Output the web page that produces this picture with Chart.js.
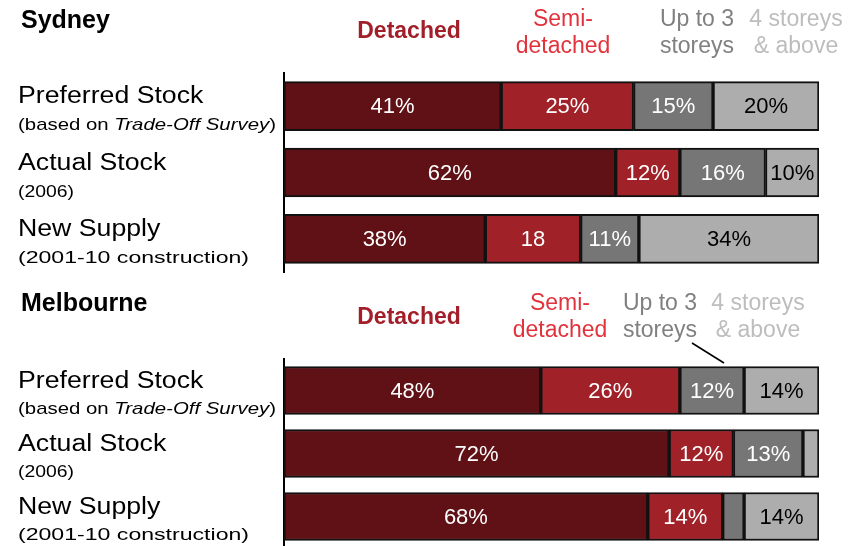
<!DOCTYPE html>
<html>
<head>
<meta charset="utf-8">
<script src="https://cdn.jsdelivr.net/npm/chart.js@4.4.1/dist/chart.umd.min.js"></script>
<style>
  html, body { margin: 0; padding: 0; background: #fff; overflow: hidden; }
  .panel { position: absolute; left: 0; width: 858px; }
  #sydPanel { top: 0; height: 280px; }
  #melPanel { top: 280px; height: 270px; }
</style>
</head>
<body>
<div class="panel" id="sydPanel"><canvas id="sydneyChart" width="858" height="280"></canvas></div>
<div class="panel" id="melPanel"><canvas id="melbourneChart" width="858" height="270"></canvas></div>
<script>
const FONT = "'Liberation Sans', Arial, sans-serif";

const rows = ['Preferred Stock', 'Actual Stock', 'New Supply'];
const seriesNames = ['Detached', 'Semi-detached', 'Up to 3 storeys', '4 storeys & above'];
const headerLines = [['Detached'], ['Semi-', 'detached'], ['Up to 3', 'storeys'], ['4 storeys', '& above']];
const barColours = ['#5f1116', '#a02128', '#767676', '#adadad'];
const headerColours = ['#a21f2a', '#e2333d', '#808080', '#bdbdbd'];

// Sydney (shares in %, as printed)
const sydneyDetached = [41, 62, 38];
const sydneySemi = [25, 12, 18];
const sydneyLow = [15, 16, 11];
const sydneyHigh = [20, 10, 34];
const sydneyLabels = [['41%', '62%', '38%'], ['25%', '12%', '18'], ['15%', '16%', '11%'], ['20%', '10%', '34%']];

// Melbourne
const melbDetached = [48, 72, 68];
const melbSemi = [26, 12, 14];
const melbLow = [12, 13, 4];
const melbHigh = [14, 3, 14];
const melbLabels = [['48%', '72%', '68%'], ['26%', '12%', '14%'], ['12%', '13%', ''], ['14%', '', '14%']];

// each bar runs the full width, so scale each row to its own total
function shares(series) {
  const totals = rows.map((_, i) => series.reduce((s, arr) => s + arr[i], 0));
  return series.map((arr) => arr.map((v, i) => (v / totals[i]) * 100));
}

function stretchText(ctx, text, x, y, sx) {
  ctx.save();
  ctx.translate(x, y);
  ctx.scale(sx, 1);
  ctx.fillText(text, 0, 0);
  ctx.restore();
  return ctx.measureText(text).width * sx;
}

// note lines under the row names: [normal, italic, normal] pieces + width on the slide
const notes = [
  { parts: ['(based on ', 'Trade-Off Survey', ')'], width: 258 },
  { parts: ['(2006)', '', ''], width: 56 },
  { parts: ['(2001-10 construction)', '', ''], width: 231 }
];

const panelText = {
  id: 'panelText',
  afterDatasetsDraw(chart, args, opts) {
    const ctx = chart.ctx;
    const yScale = chart.scales.y;
    ctx.save();

    // values inside the bars
    ctx.font = `22px ${FONT}`;
    ctx.textAlign = 'center';
    ctx.textBaseline = 'middle';
    chart.data.datasets.forEach((ds, di) => {
      chart.getDatasetMeta(di).data.forEach((bar, i) => {
        const t = opts.valueLabels[di][i];
        if (!t) return;
        ctx.fillStyle = di === 3 ? '#000' : '#fff';
        ctx.fillText(t, (bar.x + bar.base) / 2, bar.y + 1);
      });
    });

    // row names on the left
    ctx.textAlign = 'left';
    ctx.textBaseline = 'alphabetic';
    ctx.fillStyle = '#000';
    rows.forEach((name, i) => {
      const cy = yScale.getPixelForValue(i);
      ctx.font = `23px ${FONT}`;
      stretchText(ctx, name, 18, cy + opts.bigOffset, 1.16);

      const note = notes[i];
      const fonts = [`17px ${FONT}`, `italic 17px ${FONT}`, `17px ${FONT}`];
      let natural = 0;
      note.parts.forEach((p, k) => { ctx.font = fonts[k]; natural += ctx.measureText(p).width; });
      const sx = note.width / natural;
      let x = 18;
      note.parts.forEach((p, k) => {
        if (!p) return;
        ctx.font = fonts[k];
        x += stretchText(ctx, p, x, cy + opts.smallOffset, sx);
      });
    });

    // panel title
    ctx.font = `bold 25px ${FONT}`;
    ctx.fillText(opts.title, 21, opts.titleY);

    // category headers
    ctx.textAlign = 'center';
    headerLines.forEach((lines, k) => {
      ctx.fillStyle = headerColours[k];
      if (k === 0) {
        ctx.font = `bold 23px ${FONT}`;
        ctx.fillText(lines[0], opts.headX[k], opts.detachedY);
      } else {
        ctx.font = `23px ${FONT}`;
        lines.forEach((line, j) => ctx.fillText(line, opts.headX[k], opts.headY[j]));
      }
    });

    if (opts.pointer) {
      ctx.strokeStyle = '#000';
      ctx.lineWidth = 1.5;
      ctx.beginPath();
      ctx.moveTo(opts.pointer[0], opts.pointer[1]);
      ctx.lineTo(opts.pointer[2], opts.pointer[3]);
      ctx.stroke();
    }
    ctx.restore();
  }
};

function makeChart(id, series, labels, padTop, padBottom, thickness, textOpts) {
  const data = shares(series);
  return new Chart(document.getElementById(id), {
    type: 'bar',
    data: {
      labels: rows,
      datasets: data.map((arr, k) => ({
        label: seriesNames[k],
        data: arr,
        backgroundColor: barColours[k],
        borderColor: '#111',
        borderWidth: 2,
        borderSkipped: false,
        barThickness: thickness
      }))
    },
    options: {
      indexAxis: 'y',
      responsive: false,
      animation: false,
      layout: { padding: { left: 284, right: 39, top: padTop, bottom: padBottom } },
      scales: {
        x: { stacked: true, min: 0, max: 100, display: false },
        y: {
          stacked: true,
          grid: { display: false, drawTicks: false },
          ticks: { display: false },
          border: { display: true, color: '#000', width: 2 }
        }
      },
      plugins: {
        legend: { display: false },
        tooltip: { enabled: false },
        panelText: Object.assign({ valueLabels: labels }, textOpts)
      }
    },
    plugins: [panelText]
  });
}

makeChart('sydneyChart', [sydneyDetached, sydneySemi, sydneyLow, sydneyHigh], sydneyLabels, 73, 8, 49, {
  title: 'Sydney', titleY: 28, detachedY: 38,
  headX: [409, 563, 697, 796], headY: [26, 53],
  bigOffset: -3, smallOffset: 24
});

makeChart('melbourneChart', [melbDetached, melbSemi, melbLow, melbHigh], melbLabels, 79, 2, 48, {
  title: 'Melbourne', titleY: 31, detachedY: 44,
  headX: [409, 560, 660, 758], headY: [30, 57],
  bigOffset: -3, smallOffset: 23,
  pointer: [692, 63, 724, 83]
});
</script>
</body>
</html>
